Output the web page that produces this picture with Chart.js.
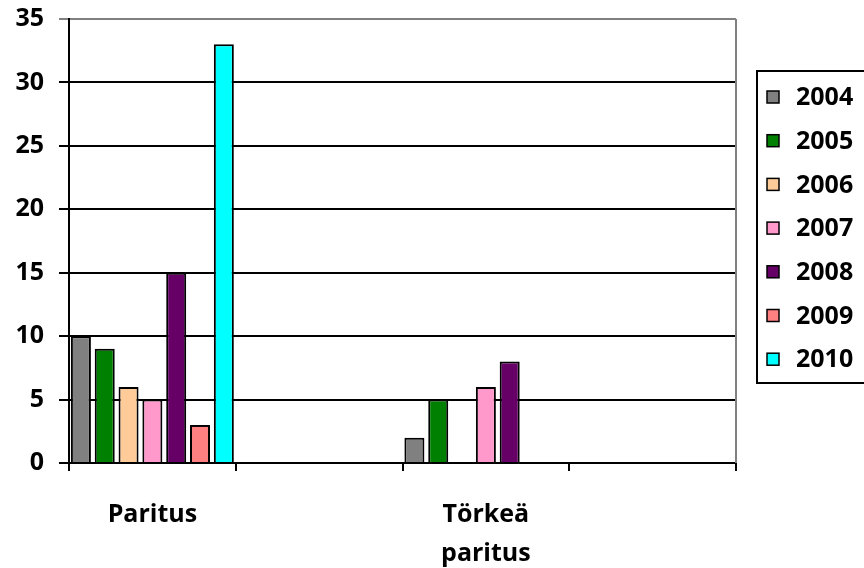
<!DOCTYPE html>
<html>
<head>
<meta charset="utf-8">
<script src="https://cdn.jsdelivr.net/npm/chart.js@4.4.1/dist/chart.umd.min.js"></script>
<style>
  html, body { margin: 0; padding: 0; background: #fff; }
  #wrap { width: 864px; height: 568px; }
</style>
</head>
<body>
<div id="wrap"><canvas id="myChart" width="864" height="568"></canvas></div>
<script>
// categories (2nd and 4th have no visible label in the original)
const categories = ["Paritus", "", ["Törkeä", "paritus"], ""];
const years = ["2004", "2005", "2006", "2007", "2008", "2009", "2010"];
const v2004 = [10, null, 2, null];
const v2005 = [9, null, 5, null];
const v2006 = [6, null, null, null];
const v2007 = [5, null, 6, null];
const v2008 = [15, null, 8, null];
const v2009 = [3, null, null, null];
const v2010 = [33, null, null, null];
const yTicks = [0, 5, 10, 15, 20, 25, 30, 35];

const seriesValues = [v2004, v2005, v2006, v2007, v2008, v2009, v2010];
const colors = ["#808080", "#008000", "#FFCC99", "#FF99CC", "#660066", "#FF8080", "#00FFFF"];
const FONT = "'Open Sans', 'Noto Sans', sans-serif";

// legend with a frame, drawn on the right
const boxLegend = {
  id: "boxLegend",
  afterDraw(chart) {
    const ctx = chart.ctx;
    const area = chart.chartArea;
    ctx.save();
    // plot area border (gray right edge)
    ctx.strokeStyle = "#808080";
    ctx.lineWidth = 2;
    ctx.beginPath();
    ctx.moveTo(area.right, area.top);
    ctx.lineTo(area.right, area.bottom);
    ctx.stroke();

    ctx.strokeStyle = "#000";
    ctx.lineWidth = 2;
    ctx.strokeRect(757, 71, 120, 312);
    ctx.font = "bold 25px " + FONT;
    ctx.textBaseline = "middle";
    chart.data.datasets.forEach((ds, i) => {
      let y = 97 + i * 43.7;
      ctx.fillStyle = ds.backgroundColor;
      ctx.fillRect(767, y - 6, 12, 12);
      ctx.lineWidth = 1.5;
      ctx.strokeRect(767, y - 6, 12, 12);
      ctx.fillStyle = "#000";
      ctx.fillText(ds.label, 796, y + 1);
    });
    ctx.restore();
  }
};

var ctx = document.getElementById("myChart").getContext("2d");
var myChart = new Chart(ctx, {
  type: "bar",
  data: {
    labels: categories,
    datasets: years.map((y, i) => ({
      label: y,
      data: seriesValues[i],
      backgroundColor: colors[i],
      borderColor: "#000",
      borderWidth: 2,
      barPercentage: 0.84,
      categoryPercentage: 1.0,
    })),
  },
  options: {
    responsive: false,
    animation: false,
    layout: { padding: { top: 19, right: 128, left: 0, bottom: 0 } },
    plugins: {
      legend: { display: false },
      tooltip: { enabled: false },
    },
    scales: {
      x: {
        grid: {
          offset: true,
          drawOnChartArea: false,
          color: "#000",
          lineWidth: 2,
          tickLength: 8,
        },
        border: { color: "#000", width: 2 },
        ticks: {
          autoSkip: false,
          maxRotation: 0,
          padding: 25,
          color: "#000",
          font: { family: FONT, size: 25, weight: "bold", lineHeight: 1.54 },
        },
        afterFit: (scale) => { scale.height = 105; scale.paddingLeft = 0; scale.paddingRight = 0; },
      },
      y: {
        min: 0,
        max: 35,
        afterBuildTicks: (scale) => { scale.ticks = yTicks.map((v) => ({ value: v })); },
        grid: {
          color: (c) => (c.tick && c.tick.value === 35 ? "#808080" : "#000"),
          lineWidth: 2,
          tickLength: 10,
        },
        border: { color: "#000", width: 2 },
        ticks: {
          padding: 15,
          color: "#000",
          font: { family: FONT, size: 25, weight: "bold" },
        },
        afterFit: (scale) => { scale.width = 69; scale.paddingTop = 0; scale.paddingBottom = 0; },
      },
    },
  },
  plugins: [boxLegend],
});
</script>
</body>
</html>
